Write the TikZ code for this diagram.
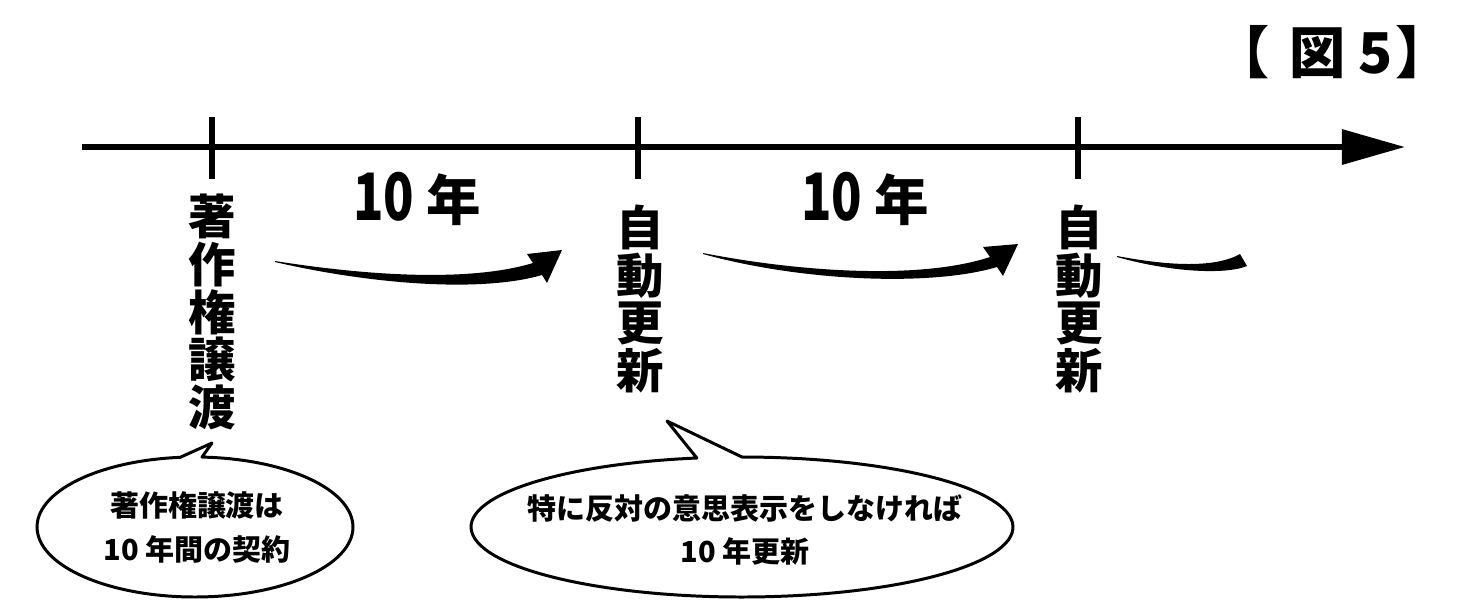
\documentclass[tikz,border=0pt]{standalone}
\usepackage{fontspec}
\usepackage{graphicx}
\setmainfont{Noto Sans CJK JP}
\usetikzlibrary{arrows.meta,calc}
\newcommand{\tallnum}[1]{\scalebox{0.92}[1.2]{#1}}
\tikzset{
  axisline/.style={line width=3.4pt,-{Triangle[length=36pt,width=19.5pt]}},
  tickline/.style={line width=3.4pt},
  vlabel/.style={align=center,inner sep=0,font=\bfseries\fontsize{27}{27.2}\selectfont},
  yearlabel/.style={inner sep=0,font=\bfseries\fontsize{31}{31}\selectfont},
  titlelabel/.style={inner sep=0,font=\bfseries\fontsize{32}{32}\selectfont},
  bubble/.style={line width=1.7pt,fill=white,line join=round},
  bubbletext/.style={align=center,inner sep=0,font=\bfseries\fontsize{16.5}{25}\selectfont},
  thickarrow/.style={fill=black},
}

\begin{document}
\begin{tikzpicture}[x=0.02cm,y=-0.02cm]
\useasboundingbox (0,0) rectangle (1480,600);

% Title
\node[titlelabel] (title) at (1333,52) {【\hspace{0.35em}図 5\hspace{0.05em}】};

% Time axis
\coordinate (axisL) at (82,147);
\coordinate (axisR) at (1405,147);
\draw[axisline] (axisL) -- (axisR);

% Ticks
\foreach \x/\n in {212/a,638/b,1078/c} {
  \coordinate (top\n) at (\x,117);
  \coordinate (bot\n) at (\x,179);
  \draw[tickline] (top\n) -- (bot\n);
}

% Labels under the ticks
\node[vlabel] (transfer) at (212,312) {著\\作\\権\\譲\\渡};
\node[vlabel] (renew1) at (640,299) {自\\動\\更\\新};
\node[vlabel] (renew2) at (1079,299) {自\\動\\更\\新};

% Periods
\node[yearlabel] (year1) at (417,199) {\tallnum{10} 年};
\node[yearlabel] (year2) at (865,199) {\tallnum{10} 年};

% Curved arrows
\fill[thickarrow] (275,261) .. controls (370,276) and (470,282) .. (533,263)
  -- (527,254) -- (562,250) -- (547,283) -- (542,275)
  .. controls (480,293) and (370,284) .. (275,262) -- cycle;
\fill[thickarrow] (703,253) .. controls (800,272) and (920,280) .. (990,257)
  -- (983,247) -- (1018,244) -- (1003,276) -- (997,267)
  .. controls (930,287) and (800,281) .. (703,254) -- cycle;
\fill[thickarrow] (1117,256) .. controls (1170,266) and (1215,268) .. (1240,254)
  -- (1247,266) .. controls (1225,275) and (1170,272) .. (1117,257) -- cycle;

% Callouts
\coordinate (ell1) at (195,527);
\coordinate (tip1) at (212,443);
\coordinate (kink1) at (202,457);
\draw[bubble] ($(ell1)+(95.4:3.16cm and 1.4cm)$)
  arc[start angle=95.4,end angle=445.6,x radius=3.16cm,y radius=1.4cm]
  -- (kink1) -- (tip1) -- cycle;
\node[bubbletext] (note1) at (197,527) {著作権譲渡は\\10 年間の契約};

\coordinate (ell2) at (742,527);
\coordinate (tip2) at (667,421);
\draw[bubble] ($(ell2)+(99.6:5.42cm and 1.4cm)$)
  arc[start angle=99.6,end angle=450,x radius=5.42cm,y radius=1.4cm]
  -- (tip2) -- cycle;
\node[bubbletext] (note2) at (745,530) {特に反対の意思表示をしなければ\\10 年更新};

\end{tikzpicture}
\end{document}
